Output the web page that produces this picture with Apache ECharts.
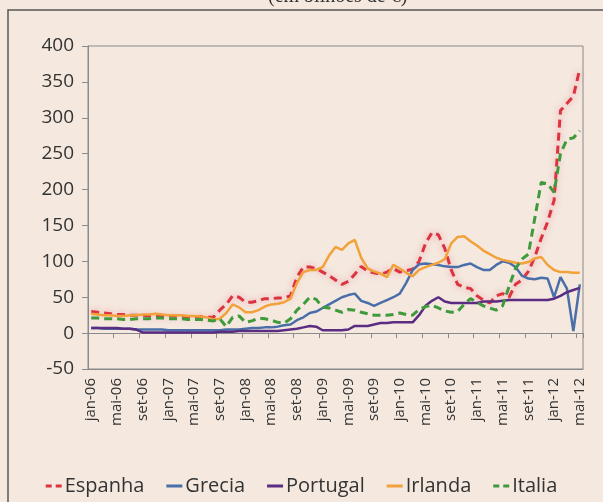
<!DOCTYPE html>
<html>
<head>
<meta charset="utf-8">
<script src="https://cdn.jsdelivr.net/npm/echarts@6.0.0/dist/echarts.min.js"></script>
<style>
  html, body { margin: 0; padding: 0; background: #f4e8df; }
  #chart { width: 603px; height: 502px; }
</style>
</head>
<body>
<div id="chart"></div>
<script>
// monthly, jan-06 .. mai-12
const monthNames = ['jan', 'fev', 'mar', 'abr', 'mai', 'jun', 'jul', 'ago', 'set', 'out', 'nov', 'dez']
const years = ['06', '07', '08', '09', '10', '11', '12']
const lastMonthOf2012 = 4 // mai

const categories = []
years.forEach((y, yi) => {
  monthNames.forEach((m, mi) => {
    if (yi === years.length - 1 && mi > lastMonthOf2012) return
    categories.push(m + '-' + y)
  })
})

const espanha = [
  30, 29, 28, 27, 26, 26, 25, 25, 25, 24, 24, 24,
  24, 24, 23, 23, 23, 23, 22, 22, 32, 40, 52, 50,
  43, 43, 45, 48, 48, 49, 49, 52, 78, 92, 92, 90,
  85, 80, 74, 68, 72, 82, 93, 86, 84, 82, 85, 90,
  85, 87, 89, 100, 125, 140, 137, 118, 88, 68, 64, 62,
  52, 46, 42, 52, 55, 50, 68, 74, 86, 106, 132, 155,
  185, 310, 320, 330, 368
]
const grecia = [
  7, 7, 6, 6, 6, 6, 6, 5, 5, 5, 5, 5,
  4, 4, 4, 4, 4, 4, 4, 4, 4, 5, 5, 5,
  6, 7, 7, 8, 8, 9, 11, 12, 18, 22, 28, 30,
  35, 40, 45, 50, 53, 55, 45, 42, 38, 42, 46, 50,
  55, 70, 88, 96, 97, 96, 95, 93, 92, 92, 95, 97,
  92, 88, 88, 95, 100, 98, 92, 80, 76, 75, 77, 76,
  50, 78, 62, 3, 68
]
const portugal = [
  7, 7, 7, 7, 7, 6, 6, 5, 1, 1, 1, 1,
  1, 1, 1, 1, 1, 1, 1, 1, 2, 2, 2, 3,
  3, 3, 3, 3, 3, 3, 4, 5, 6, 8, 10, 9,
  4, 4, 4, 4, 5, 10, 10, 10, 12, 14, 14, 15,
  15, 15, 15, 25, 38, 45, 50, 44, 42, 42, 42, 42,
  42, 44, 44, 44, 45, 46, 46, 46, 46, 46, 46, 46,
  48, 52, 57, 60, 63
]
const irlanda = [
  27, 26, 25, 25, 24, 24, 25, 25, 26, 26, 27, 26,
  25, 25, 25, 24, 24, 23, 22, 19, 20, 28, 40, 36,
  29, 29, 32, 37, 40, 41, 43, 48, 70, 85, 88, 88,
  92, 108, 120, 116, 125, 130, 105, 90, 86, 83, 78, 95,
  90, 84, 79, 88, 92, 95, 98, 103, 125, 134, 135, 128,
  122, 115, 110, 105, 102, 100, 98, 97, 99, 104, 106, 95,
  88, 85, 85, 84, 84
]
const italia = [
  21, 21, 20, 20, 20, 19, 19, 20, 20, 20, 21, 21,
  20, 20, 20, 19, 19, 19, 18, 17, 20, 9, 22, 24,
  15, 17, 21, 20, 18, 15, 14, 20, 32, 40, 50, 47,
  36, 35, 32, 29, 33, 32, 29, 27, 25, 25, 25, 26,
  28, 26, 25, 33, 37, 39, 35, 31, 29, 30, 40, 48,
  43, 38, 35, 32, 38, 65, 90, 103, 110, 160, 210, 208,
  196, 250, 270, 272, 282
]

const font = "'Open Sans', 'Noto Sans', sans-serif"
const dashIcon = 'path://M0,0h6v3h-6z M10,0h6v3h-6z'
const solidIcon = 'path://M0,0h16v3h-16z'

const line = (name, data, color, dashed) => ({
  name,
  type: 'line',
  data,
  showSymbol: false,
  symbol: 'none',
  smooth: false,
  lineStyle: {
    color,
    width: dashed ? 3 : 2.5,
    type: dashed ? [8, 5] : 'solid',
  },
  itemStyle: { color },
})

const chart = echarts.init(document.getElementById('chart'), null, { renderer: 'canvas' })

const espanhaSeries = line('Espanha', espanha, '#dc3340', true)
espanhaSeries.lineStyle.shadowColor = 'rgba(235, 90, 110, 0.55)'
espanhaSeries.lineStyle.shadowBlur = 6

chart.setOption({
  backgroundColor: '#f4e8df',
  animation: false,
  graphic: [
    {
      type: 'rect',
      shape: { x: 8, y: 10, width: 640, height: 560 },
      style: { fill: 'none', stroke: '#555', lineWidth: 1.5 },
      silent: true,
    },
    {
      type: 'text',
      left: 268,
      top: -13,
      style: {
        text: '(em bilhões de €)',
        font: "20px 'Liberation Serif', serif",
        fill: '#333',
      },
    },
  ],
  grid: {
    left: 88,
    right: 20,
    top: 46,
    bottom: 133,
    show: true,
    borderColor: '#8a8a8a',
    borderWidth: 1,
    backgroundColor: 'transparent',
  },
  legend: {
    bottom: 1,
    left: 'center',
    itemWidth: 16,
    itemHeight: 3,
    itemGap: 22,
    textStyle: { fontFamily: font, fontSize: 20, color: '#333', padding: [0, 0, 0, -2] },
    data: [
      { name: 'Espanha', icon: dashIcon },
      { name: 'Grecia', icon: solidIcon },
      { name: 'Portugal', icon: solidIcon },
      { name: 'Irlanda', icon: solidIcon },
      { name: 'Italia', icon: dashIcon },
    ],
  },
  xAxis: [
    {
      type: 'category',
      data: categories,
      boundaryGap: true,
      position: 'bottom',
      axisLine: { onZero: false, lineStyle: { color: '#8a8a8a' } },
      axisTick: { show: false },
      axisLabel: {
        interval: 3,
        rotate: 90,
        margin: 9,
        fontFamily: font,
        fontSize: 15,
        color: '#333',
      },
      splitLine: { show: false },
    },
    {
      type: 'category',
      data: categories,
      boundaryGap: true,
      position: 'top',
      axisLine: { onZero: true, lineStyle: { color: '#8a8a8a' } },
      axisTick: { show: true, inside: true, interval: 3, length: 5, lineStyle: { color: '#8a8a8a' } },
      axisLabel: { show: false },
      splitLine: { show: false },
    },
  ],
  yAxis: {
    type: 'value',
    min: -50,
    max: 400,
    interval: 50,
    axisLine: { show: true, lineStyle: { color: '#8a8a8a' } },
    axisTick: { show: true, length: 6, lineStyle: { color: '#8a8a8a' } },
    axisLabel: { margin: 14, fontFamily: font, fontSize: 19, color: '#333' },
    splitLine: { show: false },
  },
  series: [
    espanhaSeries,
    line('Grecia', grecia, '#4a6fa8', false),
    line('Portugal', portugal, '#5a2d82', false),
    line('Irlanda', irlanda, '#f2a23a', false),
    line('Italia', italia, '#3f9a3c', true),
  ],
})
</script>
</body>
</html>
